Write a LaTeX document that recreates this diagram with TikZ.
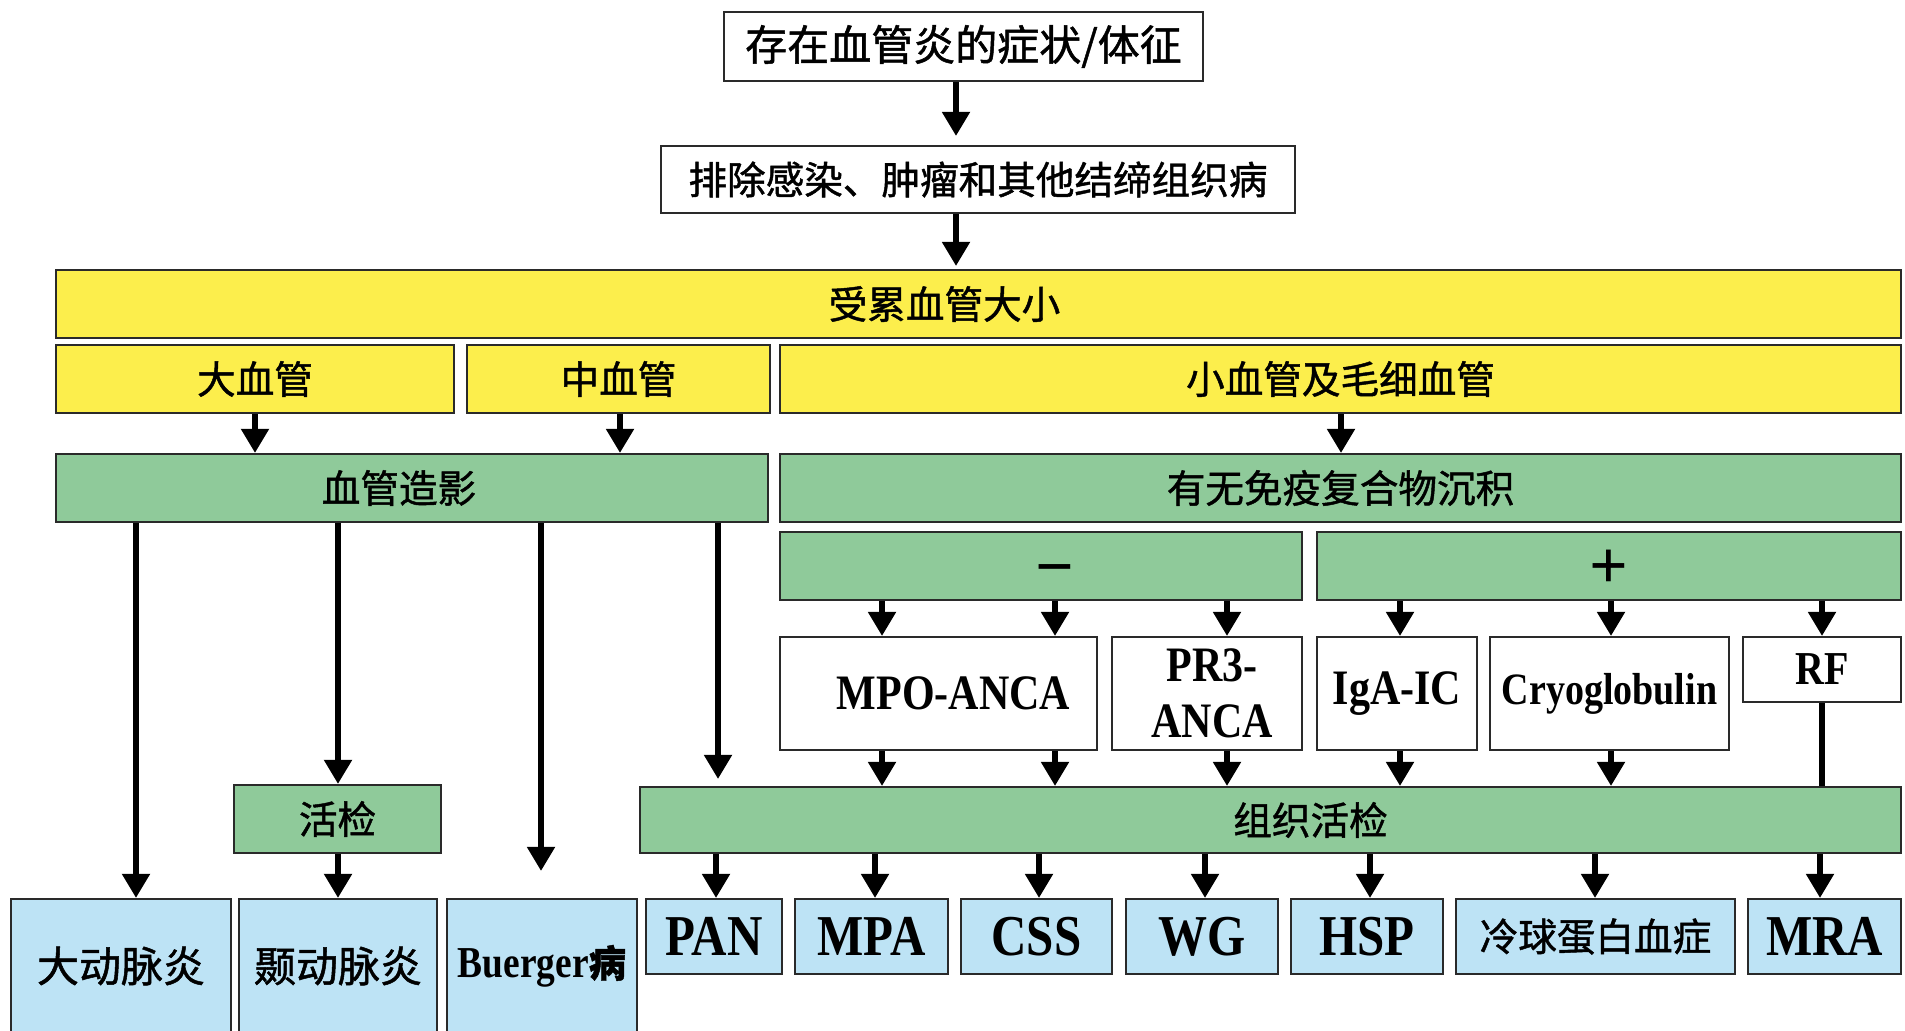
\documentclass[tikz,border=0pt]{standalone}
\usepackage{fontspec}
\usepackage{graphicx}
\setmainfont{Liberation Serif}
\newfontfamily\cjk{Noto Sans CJK SC}[FakeBold=1.2]
\usetikzlibrary{arrows.meta}
\definecolor{yel}{HTML}{FCEE4C}
\definecolor{grn}{HTML}{8FCA9A}
\definecolor{blu}{HTML}{BDE3F5}
\definecolor{edge}{HTML}{2A2A2A}
\newcommand\tall[1]{\scalebox{1}[1.18]{#1}}
\begin{document}
\begin{tikzpicture}[x=0.5pt,y=-0.5pt,
  rect/.style n args={4}{at={({(#1+#3)/2},{(#2+#4)/2})},
     minimum width={(#3-#1)*0.5pt}, minimum height={(#4-#2)*0.5pt}},
  bx/.style={draw=edge, line width=1.1pt, inner sep=0pt, align=center},
  wbox/.style={bx, fill=white},
  ybox/.style={bx, fill=yel},
  gbox/.style={bx, fill=grn},
  bbox/.style={bx, fill=blu},
  zh/.style={font=\cjk\fontsize{19.3}{22}\selectfont},
  zhl/.style={font=\cjk\fontsize{21}{24}\selectfont},
  en/.style={font=\bfseries\fontsize{21}{24}\selectfont},
  enl/.style={font=\bfseries\fontsize{24.5}{27}\selectfont},
  arr/.style={line width=2.6pt, -{Triangle[width=13.5pt,length=12pt]}},
  ln/.style={line width=2.6pt},
]
\fill[white] (0,0) rectangle (1905,1031);
\clip (0,0) rectangle (1905,1031);

% top chain
\node[wbox, zhl, rect={724}{12}{1203}{81}] (top) {存在血管炎的症状/体征};
\node[wbox, zh, rect={661}{146}{1295}{213}] (excl) {排除感染、肿瘤和其他结缔组织病};

% vessel size
\node[ybox, rect={56}{270}{1901}{338},
  label={[zh, xshift=-17pt]center:受累血管大小}] (size) {};
\node[ybox, zh, rect={56}{345}{454}{413}] (large) {大血管};
\node[ybox, zh, rect={467}{345}{770}{413}] (medium) {中血管};
\node[ybox, zh, rect={780}{345}{1901}{413}] (small) {小血管及毛细血管};

% second level
\node[gbox, rect={56}{454}{768}{522},
  label={[zh, xshift=-6.5pt]center:血管造影}] (angio) {};
\node[gbox, zh, rect={780}{454}{1901}{522}] (immune) {有无免疫复合物沉积};
\node[gbox, rect={780}{532}{1302}{600},
  label={[font=\bfseries\fontsize{34}{36}\selectfont, xshift=7pt, yshift=-5.5pt]center:−}] (neg) {};
\node[gbox, rect={1317}{532}{1901}{600},
  label={[font=\bfseries\fontsize{34}{36}\selectfont, yshift=-1.5pt]center:+}] (pos) {};

% antibodies
\node[wbox, rect={780}{637}{1097}{750},
  label={[en, xshift=7.5pt]center:\tall{MPO-ANCA}}] (mpo) {};
\node[wbox, rect={1112}{637}{1302}{750},
  label={[en, align=center, xshift=2.5pt]center:\tall{PR3-}\\[4pt]\tall{ANCA}}] (pr3) {};
\node[wbox, en, rect={1317}{637}{1477}{750}] (iga) {\tall{IgA-IC}};
\node[wbox, font=\bfseries\fontsize{19}{21}\selectfont, rect={1490}{637}{1729}{750}] (cryo) {\tall{Cryoglobulin}};
\node[wbox, font=\bfseries\fontsize{20}{22}\selectfont, rect={1743}{637}{1901}{702}] (rf) {\tall{RF}};

% biopsies
\node[gbox, zh, rect={234}{785}{441}{853}] (biopsy) {活检};
\node[gbox, rect={640}{787}{1901}{853},
  label={[zh, xshift=20pt]center:组织活检}] (tissue) {};

% diagnoses
\node[bbox, rect={11}{899}{231}{1045},
  label={[zhl, yshift=3pt]center:大动脉炎}] (takayasu) {};
\node[bbox, rect={239}{899}{437}{1045},
  label={[zhl, yshift=3pt]center:颞动脉炎}] (temporal) {};
\node[bbox, rect={447}{899}{637}{1045},
  label={[font=\bfseries\fontsize{18.7}{21}\selectfont, yshift=3pt]center:\tall{Buerger}{\cjk 病}}] (buerger) {};
\node[bbox, enl, rect={646}{899}{782}{974}] (pan) {\tall{PAN}};
\node[bbox, enl, rect={795}{899}{948}{974}] (mpa) {\tall{MPA}};
\node[bbox, enl, rect={961}{899}{1112}{974}] (css) {\tall{CSS}};
\node[bbox, enl, rect={1126}{899}{1278}{974}] (wg) {\tall{WG}};
\node[bbox, enl, rect={1291}{899}{1443}{974}] (hsp) {\tall{HSP}};
\node[bbox, zh, rect={1456}{899}{1735}{974}] (cryoem) {冷球蛋白血症};
\node[bbox, enl, rect={1748}{899}{1901}{974}] (mra) {\tall{MRA}};

% connectors
\draw[arr, shorten >=4.5pt] (top.south -| 956,0) -- (excl.north -| 956,0);
\draw[arr, shorten >=1.5pt] (excl.south -| 956,0) -- (size.north -| 956,0);
\draw[arr] (large.south -| 255,0) -- (angio.north -| 255,0);
\draw[arr] (medium.south -| 620,0) -- (angio.north -| 620,0);
\draw[arr] (small.south -| 1341,0) -- (immune.north -| 1341,0);

\draw[arr] (neg.south -| 882,0) -- (mpo.north -| 882,0);
\draw[arr] (neg.south -| 1055,0) -- (mpo.north -| 1055,0);
\draw[arr] (neg.south -| 1227,0) -- (pr3.north -| 1227,0);
\draw[arr] (pos.south -| 1400,0) -- (iga.north -| 1400,0);
\draw[arr] (pos.south -| 1611,0) -- (cryo.north -| 1611,0);
\draw[arr] (pos.south -| 1822,0) -- (rf.north -| 1822,0);

\draw[arr] (mpo.south -| 882,0) -- (tissue.north -| 882,0);
\draw[arr] (mpo.south -| 1055,0) -- (tissue.north -| 1055,0);
\draw[arr] (pr3.south -| 1227,0) -- (tissue.north -| 1227,0);
\draw[arr] (iga.south -| 1400,0) -- (tissue.north -| 1400,0);
\draw[arr] (cryo.south -| 1611,0) -- (tissue.north -| 1611,0);
\draw[ln] (rf.south -| 1822,0) -- (tissue.north -| 1822,0);

\draw[arr] (angio.south -| 136,0) -- (takayasu.north -| 136,0);
\draw[arr] (angio.south -| 338,0) -- (biopsy.north -| 338,0);
\draw[arr, shorten >=13.5pt] (angio.south -| 541,0) -- (buerger.north -| 541,0);
\draw[arr, shorten >=3.5pt] (angio.south -| 718,0) -- (tissue.north -| 718,0);
\draw[arr] (biopsy.south -| 338,0) -- (temporal.north -| 338,0);

\draw[arr] (tissue.south -| 716,0) -- (pan.north -| 716,0);
\draw[arr] (tissue.south -| 875,0) -- (mpa.north -| 875,0);
\draw[arr] (tissue.south -| 1039,0) -- (css.north -| 1039,0);
\draw[arr] (tissue.south -| 1205,0) -- (wg.north -| 1205,0);
\draw[arr] (tissue.south -| 1370,0) -- (hsp.north -| 1370,0);
\draw[arr] (tissue.south -| 1595,0) -- (cryoem.north -| 1595,0);
\draw[arr] (tissue.south -| 1820,0) -- (mra.north -| 1820,0);
\end{tikzpicture}
\end{document}
